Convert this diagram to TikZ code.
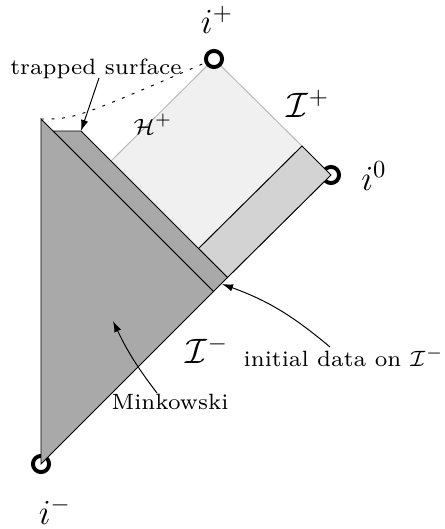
\documentclass[tikz,border=0pt]{standalone}
\usetikzlibrary{arrows.meta}
\definecolor{lightest}{RGB}{240,240,240}
\definecolor{lightstrip}{RGB}{211,211,211}
\definecolor{darkfill}{RGB}{169,169,169}
\definecolor{edgegray}{RGB}{185,185,185}
\begin{document}
\begin{tikzpicture}[x=0.408pt,y=-0.408pt,
  ptmark/.style={circle,draw=black,line width=1.6pt,fill=white,inner sep=0pt,minimum size=6.6pt},
  biglabel/.style={font=\Large,inner sep=0pt},
  note/.style={font=\scriptsize,scale=1.29,inner sep=0pt},
  ptr/.style={-{Latex[length=4.5pt,width=3pt]}},
  horizon/.style={dash pattern=on 1.2pt off 3.1pt}]
\useasboundingbox (0,0) rectangle (444,529);
\coordinate (im) at (41,464);
\coordinate (T) at (41,119);
\coordinate (R) at (213.5,291.5);
\coordinate (io) at (331,175);
\coordinate (ip) at (214,59);
\coordinate (A) at (53,131);
\coordinate (B) at (81,131);
\coordinate (C) at (227.5,277.5);
\coordinate (D) at (198.5,248.5);
\coordinate (E) at (302,146);
\coordinate (F) at (111,161);
% circles partly covered by the regions
\node[ptmark] (n0) at (io) {};
\node[ptmark] (nm) at (im) {};
% exterior region
\fill[lightest] (F) -- (ip) -- (E) -- (D) -- cycle;
\draw[edgegray] (F) -- (ip) -- (E);
% apparent horizon
\draw[horizon] (T) .. controls (75,119) .. (ip);
% outgoing strip
\filldraw[fill=lightstrip] (D) -- (C) -- (io) -- (E) -- cycle;
% shell
\filldraw[fill=darkfill] (A) -- (B) -- (C) -- (R) -- cycle;
% Minkowski
\filldraw[fill=darkfill] (T) -- (im) -- (R) -- cycle;
\node[ptmark] (np) at (ip) {};
% labels
\node[biglabel] (lip) at (217,20) {$i^+$};
\node[biglabel] (lIp) at (308,104) {$\mathcal{I}^+$};
\node[biglabel] (li0) at (374,176) {$i^0$};
\node[biglabel] (lim) at (55,511) {$i^-$};
\node[biglabel] (lIm) at (207,350) {$\mathcal{I}^-$};
\node[note] (lH) at (153,124) {$\mathcal{H}^+$};
\node[note] (ts) at (96,69) {trapped surface};
\node[note] (id) at (344,357) {initial data on $\mathcal{I}^-$};
\node[note] (mk) at (170,402) {Minkowski};
% pointers
\coordinate (tsend) at (99,78);
\coordinate (idend) at (330,347);
\coordinate (idtip) at (222,284);
\coordinate (mkend) at (157,393);
\coordinate (mktip) at (113,321);
\draw[ptr] (tsend) -- (B);
\draw[ptr] (idend) to[out=140,in=-20] (idtip);
\draw[ptr] (mkend) to[bend left=6] (mktip);
\end{tikzpicture}
\end{document}
